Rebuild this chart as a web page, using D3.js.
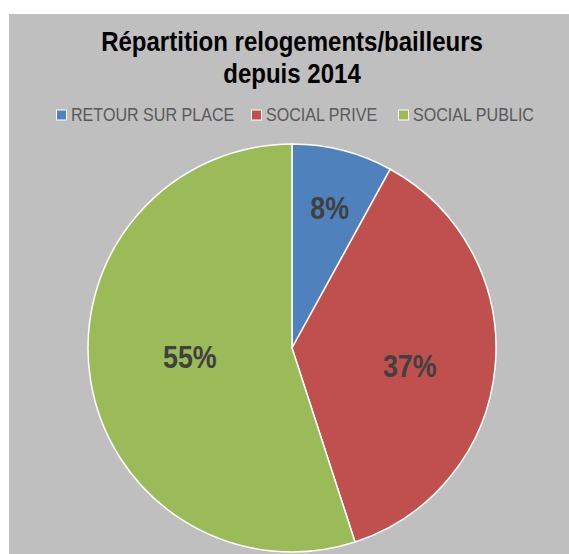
<!DOCTYPE html>
<html>
<head>
<meta charset="utf-8">
<script src="https://cdn.jsdelivr.net/npm/d3@7"></script>
<style>
  html, body { margin: 0; padding: 0; background: #ffffff; }
  svg { display: block; }
</style>
</head>
<body>
<svg id="chart" width="569" height="554"></svg>
<script>
const titleLines = ["Répartition relogements/bailleurs", "depuis 2014"];
const categories = ["RETOUR SUR PLACE", "SOCIAL PRIVE", "SOCIAL PUBLIC"];
const values = [8, 37, 55];
const colors = ["#4f81bd", "#c0504d", "#9bbb59"];

const W = 569, H = 554;
const font = "'Liberation Sans', Arial, sans-serif";
const svg = d3.select("#chart");

// panel
svg.append("rect").attr("x", 9).attr("y", 14).attr("width", W - 9).attr("height", H - 14)
  .attr("fill", "#bfbfbf");

// title (condensed look via horizontal scale)
titleLines.forEach((t, i) => {
  svg.append("text")
    .attr("transform", `translate(292,${51 + i * 32}) scale(0.89,1)`)
    .attr("text-anchor", "middle")
    .attr("font-family", font).attr("font-weight", "bold").attr("font-size", 27)
    .attr("fill", "#000").text(t);
});

// legend
const legendX = [56, 251, 398];
const items = svg.append("g").selectAll("g").data(categories).join("g")
  .attr("transform", (d, i) => `translate(${legendX[i]},0)`);
items.append("rect").attr("x", 0.5).attr("y", 110).attr("width", 10).attr("height", 10)
  .attr("fill", (d, i) => colors[i]).attr("stroke", "#ffffff").attr("stroke-width", 1);
items.append("text")
  .attr("transform", "translate(15,121) scale(0.92,1)")
  .attr("font-family", font).attr("font-size", 17.5).attr("fill", "#595959")
  .text(d => d);

// pie
const cx = 292, cy = 348, R = 204;
const pie = d3.pie().sort(null).value(d => d);
const arcs = pie(values);
const arc = d3.arc().innerRadius(0).outerRadius(R);
const g = svg.append("g").attr("transform", `translate(${cx},${cy})`);
g.selectAll("path").data(arcs).join("path")
  .attr("d", arc).attr("fill", (d, i) => colors[i])
  .attr("stroke", "#ffffff").attr("stroke-width", 1.5).attr("stroke-linejoin", "round");

const total = d3.sum(values);
g.selectAll("text.lbl").data(arcs).join("text").attr("class", "lbl")
  .attr("transform", d => {
    const frac = d.value / total;
    const r = R * (0.75 - 0.45 * frac);
    const a = (d.startAngle + d.endAngle) / 2 + (8 * frac) * Math.PI / 180;
    return `translate(${Math.sin(a) * r},${-Math.cos(a) * r}) scale(0.84,1)`;
  })
  .attr("text-anchor", "middle").attr("dy", "0.36em")
  .attr("font-family", font).attr("font-weight", "bold").attr("font-size", 32)
  .attr("fill", "#404040")
  .text(d => Math.round(d.value / total * 100) + "%");
</script>
</body>
</html>
